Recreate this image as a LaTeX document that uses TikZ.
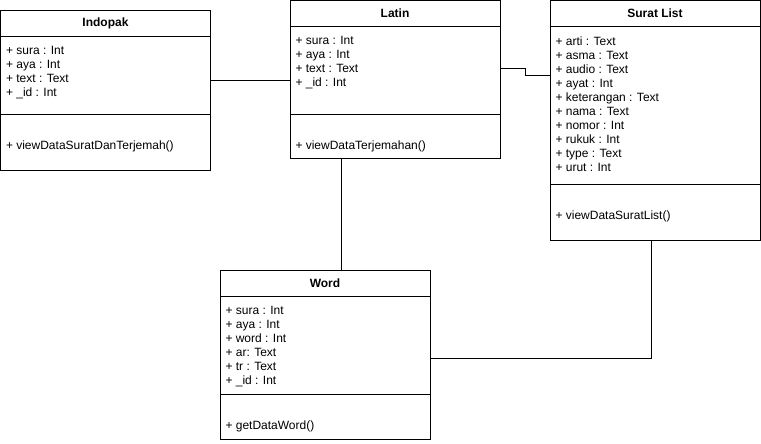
\documentclass[tikz,border=0pt]{standalone}
\usepackage{fontspec}
\setmainfont{Liberation Sans}
\usetikzlibrary{positioning}

\begin{document}
\begin{tikzpicture}[x=1pt,y=-1pt,line width=1pt,
  head/.style={draw,minimum width=210pt,minimum height=26pt,outer sep=0pt,inner sep=0pt,font=\fontsize{12}{14}\selectfont\bfseries},
  part/.style={draw,minimum width=210pt,outer sep=0pt,inner sep=0pt},
  member/.style={anchor=north west,inner sep=0pt,align=left,font=\fontsize{12}{14}\selectfont}]
  \useasboundingbox (0,0) rectangle (761,444);
  % Indopak
  \node[head] (indopak) at (105.5,23.5) {Indopak};
  \node[part,minimum height=78pt,below=0pt of indopak] (indopakAttr) {};
  \node[part,minimum height=56pt,below=0pt of indopakAttr] (indopakOps) {};
  \node[member] (indopakAttrText) at ([shift={(5pt,-9.5pt)}]indopakAttr.north west) {+ sura : Int\\+ aya : Int\\+ text : Text\\+ \_id : Int};
  \node[member] (indopakOpsText) at ([shift={(5pt,-26pt)}]indopakOps.north west) {+ viewDataSuratDanTerjemah()};
  % Latin
  \node[head] (latin) at (395,13.5) {Latin};
  \node[part,minimum height=88pt,below=0pt of latin] (latinAttr) {};
  \node[part,minimum height=44pt,below=0pt of latinAttr] (latinOps) {};
  \node[member] (latinAttrText) at ([shift={(5pt,-9.5pt)}]latinAttr.north west) {+ sura : Int\\+ aya : Int\\+ text : Text\\+ \_id : Int};
  \node[member] (latinOpsText) at ([shift={(5pt,-26pt)}]latinOps.north west) {+ viewDataTerjemahan()};
  % Surat List
  \node[head] (surat) at (655,13.5) {Surat List};
  \node[part,minimum height=158pt,below=0pt of surat] (suratAttr) {};
  \node[part,minimum height=56pt,below=0pt of suratAttr] (suratOps) {};
  \node[member] (suratAttrText) at ([shift={(5pt,-9.5pt)}]suratAttr.north west) {+ arti : Text\\+ asma : Text\\+ audio : Text\\+ ayat : Int\\+ keterangan : Text\\+ nama : Text\\+ nomor : Int\\+ rukuk : Int\\+ type : Text\\+ urut : Int};
  \node[member] (suratOpsText) at ([shift={(5pt,-26pt)}]suratOps.north west) {+ viewDataSuratList()};
  % Word
  \node[head] (word) at (325,283.5) {Word};
  \node[part,minimum height=98pt,below=0pt of word] (wordAttr) {};
  \node[part,minimum height=45pt,below=0pt of wordAttr] (wordOps) {};
  \node[member] (wordAttrText) at ([shift={(5pt,-9.5pt)}]wordAttr.north west) {+ sura : Int\\+ aya : Int\\+ word : Int\\+ ar: Text\\+ tr : Text\\+ \_id : Int};
  \node[member] (wordOpsText) at ([shift={(5pt,-26pt)}]wordOps.north west) {+ getDataWord()};
  % Connectors
  \draw ([yshift=-5pt]indopakAttr.east) coordinate (ilink) -- (ilink -| latinAttr.west);
  \draw ([yshift=2pt]latinAttr.east) -- ++(25,0) |- ([yshift=30pt]suratAttr.west);
  \draw ([xshift=-54pt]latinOps.south) coordinate (wlink) -- (wlink |- word.north);
  \draw ([yshift=-13pt]wordAttr.east) -| ([xshift=-4pt]suratOps.south);
\end{tikzpicture}
\end{document}
